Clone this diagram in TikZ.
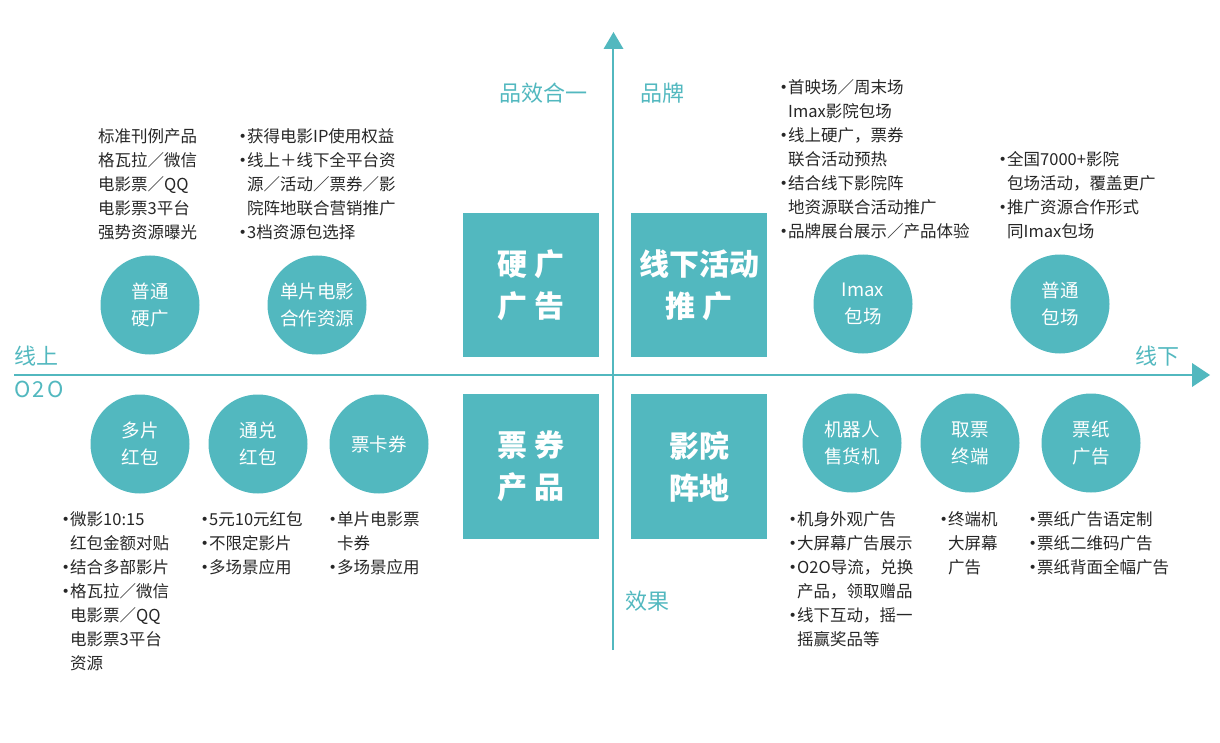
\documentclass[tikz,border=0pt]{standalone}
\usepackage{fontspec}
\setmainfont{Noto Sans CJK SC}
\newfontfamily\bulletfont{DejaVu Sans}
\definecolor{teal1}{RGB}{82,184,191}
\definecolor{txt}{RGB}{38,38,38}
\newcommand\bul{\makebox[8pt][l]{\hspace*{-0.5pt}\raisebox{1.0pt}{\bulletfont\fontsize{14}{14}\selectfont •}}}
\newcommand\ind{\hspace*{8pt}}
\begin{document}
\begin{tikzpicture}[x=1pt,y=-1pt,
  sqbox/.style={fill=teal1, minimum width=136pt, minimum height=144pt, inner sep=0pt,
    text=white, font=\bfseries\fontsize{30}{42}\selectfont, align=center},
  circbox/.style={circle, fill=teal1, minimum size=99pt, inner sep=0pt, text=white,
    font=\fontsize{18.5}{27}\selectfont, align=center},
  blk/.style={anchor=base west, inner sep=0pt, align=left, text=txt,
    font=\fontsize{16.5}{24}\selectfont},
  axlbl/.style={text=teal1, font=\fontsize{22}{26}\selectfont, inner sep=0pt},
  axisline/.style={draw=teal1, line width=1.5pt},
  tipshape/.style={fill=teal1}
]
\useasboundingbox (0,0) rectangle (1220,743);

% axes
\coordinate (vbot) at (613,650);
\coordinate (vtop) at (613,48);
\coordinate (hl) at (14,375);
\coordinate (hr) at (1193,375);
\draw[axisline] (vbot) -- (vtop);
\draw[axisline] (hl) -- (hr);
\fill[tipshape] (603.5,49) -- (623.5,49) -- (613.5,32) -- cycle;
\fill[tipshape] (1192,363) -- (1192,387) -- (1210,375) -- cycle;

% axis labels
\node[axlbl] (lOn) at (36,356) {线上};
\node[axlbl] (lO2O) at (39,389) {\addfontfeature{LetterSpace=10}O2O};
\node[axlbl] (lOff) at (1157,356) {线下};
\node[axlbl] (lPX) at (543,93) {品效合一};
\node[axlbl] (lPP) at (662,93) {品牌};
\node[axlbl] (lXG) at (647,601) {效果};

% squares
\node[sqbox] (sqA) at (531,285) {硬\hspace{0.25em}广\\广\hspace{0.25em}告};
\node[sqbox] (sqB) at (699,285) {线下活动\\推\hspace{0.25em}广};
\node[sqbox, minimum height=145pt] (sqC) at (531,466.5) {票\hspace{0.25em}券\\产\hspace{0.25em}品};
\node[sqbox, minimum height=145pt] (sqD) at (699,466.5) {影院\\阵地};

% circles top
\node[circbox] (c1) at (150,305) {普通\\硬广};
\node[circbox] (c2) at (317,305) {单片电影\\合作资源};
\node[circbox] (c3) at (863,304) {Imax\\包场};
\node[circbox] (c4) at (1060,304) {普通\\包场};
% circles bottom
\node[circbox] (c5) at (140,444) {多片\\红包};
\node[circbox] (c6) at (258,444) {通兑\\红包};
\node[circbox] (c7) at (379,444) {票卡券};
\node[circbox] (c8) at (852,443) {机器人\\售货机};
\node[circbox] (c9) at (970,443) {取票\\终端};
\node[circbox] (c10) at (1091,443) {票纸\\广告};

% text blocks top (anchor = baseline of last line)
\node[blk] (t1) at (98,239) {标准刊例产品\\格瓦拉／微信\\电影票／QQ\\电影票3平台\\强势资源曝光};
\node[blk] (t2) at (239,239) {\bul 获得电影IP使用权益\\\bul 线上＋线下全平台资\\\ind 源／活动／票券／影\\\ind 院阵地联合营销推广\\\bul 3档资源包选择};
\node[blk] (t3) at (780,238) {\bul 首映场／周末场\\\ind Imax影院包场\\\bul 线上硬广，票券\\\ind 联合活动预热\\\bul 结合线下影院阵\\\ind 地资源联合活动推广\\\bul 品牌展台展示／产品体验};
\node[blk] (t4) at (999,238) {\bul 全国7000+影院\\\ind 包场活动，覆盖更广\\\bul 推广资源合作形式\\\ind 同Imax包场};

% text blocks bottom
\node[blk] (t5) at (62,669) {\bul 微影10:15\\\ind 红包金额对贴\\\bul 结合多部影片\\\bul 格瓦拉／微信\\\ind 电影票／QQ\\\ind 电影票3平台\\\ind 资源};
\node[blk] (t6) at (201,573) {\bul 5元10元红包\\\bul 不限定影片\\\bul 多场景应用};
\node[blk] (t7) at (329,573) {\bul 单片电影票\\\ind 卡券\\\bul 多场景应用};
\node[blk] (t8) at (789,645) {\bul 机身外观广告\\\bul 大屏幕广告展示\\\bul O2O导流，兑换\\\ind 产品，领取赠品\\\bul 线下互动，摇一\\\ind 摇赢奖品等};
\node[blk] (t9) at (940,573) {\bul 终端机\\\ind 大屏幕\\\ind 广告};
\node[blk] (t10) at (1029,573) {\bul 票纸广告语定制\\\bul 票纸二维码广告\\\bul 票纸背面全幅广告};
\end{tikzpicture}
\end{document}
